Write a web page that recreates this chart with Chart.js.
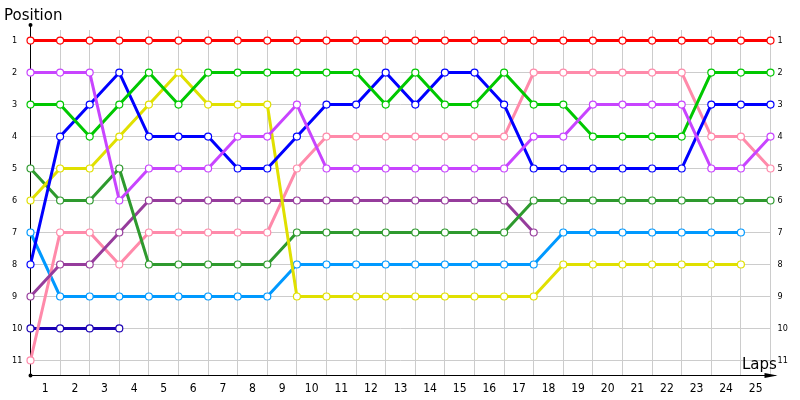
<!DOCTYPE html>
<html>
<head>
<meta charset="utf-8">
<title>Race positions</title>
<script src="https://cdn.jsdelivr.net/npm/chart.js@4.4.1/dist/chart.umd.min.js"></script>
<style>
  html, body { margin: 0; padding: 0; background: #fff; }
  #wrap { width: 800px; height: 400px; }
</style>
</head>
<body>
<div id="wrap"><canvas id="raceChart"></canvas></div>
<script>
// laps where a point is drawn (start + every lap end)
const laps = [0, 1, 2, 3, 4, 5, 6, 7, 8, 9, 10, 11, 12, 13, 14, 15, 16, 17, 18, 19, 20, 21, 22, 23, 24, 25];
// lap numbers written under the axis, between the grid lines
const lapTicks = [1, 2, 3, 4, 5, 6, 7, 8, 9, 10, 11, 12, 13, 14, 15, 16, 17, 18, 19, 20, 21, 22, 23, 24, 25];
const positions = [1, 2, 3, 4, 5, 6, 7, 8, 9, 10, 11];

// position of each car per lap (shorter list = car retired)
const red = [1, 1, 1, 1, 1, 1, 1, 1, 1, 1, 1, 1, 1, 1, 1, 1, 1, 1, 1, 1, 1, 1, 1, 1, 1, 1];
const violet = [2, 2, 2, 6, 5, 5, 5, 4, 4, 3, 5, 5, 5, 5, 5, 5, 5, 4, 4, 3, 3, 3, 3, 5, 5, 4];
const green = [3, 3, 4, 3, 2, 3, 2, 2, 2, 2, 2, 2, 3, 2, 3, 3, 2, 3, 3, 4, 4, 4, 4, 2, 2, 2];
const blue = [8, 4, 3, 2, 4, 4, 4, 5, 5, 4, 3, 3, 2, 3, 2, 2, 3, 5, 5, 5, 5, 5, 5, 3, 3, 3];
const yellow = [6, 5, 5, 4, 3, 2, 3, 3, 3, 9, 9, 9, 9, 9, 9, 9, 9, 9, 8, 8, 8, 8, 8, 8, 8];
const darkGreen = [5, 6, 6, 5, 8, 8, 8, 8, 8, 7, 7, 7, 7, 7, 7, 7, 7, 6, 6, 6, 6, 6, 6, 6, 6, 6];
const purple = [9, 8, 8, 7, 6, 6, 6, 6, 6, 6, 6, 6, 6, 6, 6, 6, 6, 7];
const pink = [11, 7, 7, 8, 7, 7, 7, 7, 7, 5, 4, 4, 4, 4, 4, 4, 4, 2, 2, 2, 2, 2, 2, 4, 4, 5];
const lightBlue = [7, 9, 9, 9, 9, 9, 9, 9, 9, 8, 8, 8, 8, 8, 8, 8, 8, 8, 7, 7, 7, 7, 7, 7, 7];
const navy = [10, 10, 10, 10];

const series = [
    { values: red, color: '#ff0000' },
    { values: violet, color: '#c844ff' },
    { values: green, color: '#00c800' },
    { values: blue, color: '#0000ff' },
    { values: yellow, color: '#e0e000' },
    { values: darkGreen, color: '#2e9a2e' },
    { values: purple, color: '#963c9c' },
    { values: pink, color: '#ff8aaa' },
    { values: lightBlue, color: '#0099ff' },
    { values: navy, color: '#1a00b4' }
];

Chart.defaults.font.family = 'DejaVu Sans';

// black axes with end markers, plus the two axis captions
const axisDecor = {
    id: 'axisDecor',
    beforeDatasetsDraw(chart) {
        const { ctx, chartArea: a } = chart;
        ctx.save();
        ctx.strokeStyle = '#000';
        ctx.fillStyle = '#000';
        ctx.lineWidth = 1;
        ctx.beginPath();
        ctx.moveTo(a.left, 25);
        ctx.lineTo(a.left, a.bottom);
        ctx.lineTo(a.right + 5, a.bottom);
        ctx.stroke();
        ctx.beginPath();
        ctx.arc(a.left, 25, 2, 0, Math.PI * 2);
        ctx.arc(a.left, a.bottom, 2, 0, Math.PI * 2);
        ctx.fill();
        ctx.beginPath();
        ctx.moveTo(a.right - 6, a.bottom - 2.5);
        ctx.lineTo(a.right + 7, a.bottom);
        ctx.lineTo(a.right - 6, a.bottom + 2.5);
        ctx.closePath();
        ctx.fill();
        ctx.restore();
    },
    afterDraw(chart) {
        const { ctx } = chart;
        ctx.save();
        ctx.fillStyle = '#000';
        ctx.font = '15px "DejaVu Sans"';
        ctx.textBaseline = 'alphabetic';
        ctx.fillText('Position', 4, 20);
        ctx.fillText('Laps', 742, 369);
        ctx.restore();
    }
};

const ctx = document.getElementById('raceChart').getContext('2d');
const chart = new Chart(ctx, {
    type: 'line',
    data: {
        datasets: series.map(s => ({
            data: s.values.map((v, i) => ({ x: laps[i], y: v })),
            borderColor: s.color,
            borderWidth: 3,
            pointRadius: 3.5,
            pointHoverRadius: 3.5,
            pointBorderWidth: 1.2,
            pointBackgroundColor: '#ffffff',
            pointBorderColor: s.color,
            tension: 0,
            clip: false
        }))
    },
    options: {
        responsive: true,
        maintainAspectRatio: false,
        animation: false,
        events: [],
        layout: { padding: { top: 30, left: 12, right: 0, bottom: 0 } },
        plugins: {
            legend: { display: false },
            tooltip: { enabled: false }
        },
        scales: {
            x: {
                type: 'linear',
                min: 0,
                max: 25,
                ticks: { stepSize: 1, display: false },
                grid: { color: '#cccccc', drawTicks: false },
                border: { display: false },
                afterFit: axis => { axis.height = 0; }
            },
            x2: {
                type: 'linear',
                position: 'bottom',
                min: 0,
                max: 25,
                afterBuildTicks: axis => { axis.ticks = lapTicks.map(n => ({ value: n - 0.5 })); },
                ticks: {
                    callback: (value, index) => lapTicks[index],
                    font: { size: 12, family: 'DejaVu Sans Condensed' },
                    color: '#000',
                    padding: 6,
                    maxRotation: 0,
                    autoSkip: false
                },
                grid: { display: false, drawTicks: false },
                border: { display: false },
                afterFit: axis => { axis.height = 24.5; }
            },
            y: {
                type: 'linear',
                reverse: true,
                min: 0.67,
                max: 11.47,
                afterBuildTicks: axis => { axis.ticks = positions.map(p => ({ value: p })); },
                ticks: {
                    crossAlign: 'far',
                    font: { size: 9, family: 'DejaVu Sans Condensed' },
                    color: '#000',
                    padding: 0
                },
                grid: { color: '#cccccc', drawTicks: false },
                border: { display: false },
                afterFit: axis => { axis.width = 18.5; }
            },
            y2: {
                type: 'linear',
                position: 'right',
                reverse: true,
                min: 0.67,
                max: 11.47,
                afterBuildTicks: axis => { axis.ticks = positions.map(p => ({ value: p })); },
                ticks: {
                    font: { size: 9, family: 'DejaVu Sans Condensed' },
                    color: '#000',
                    padding: 7
                },
                grid: { display: false, drawTicks: false },
                border: { display: false },
                afterFit: axis => { axis.width = 29.5; }
            }
        }
    },
    plugins: [axisDecor]
});
</script>
</body>
</html>
